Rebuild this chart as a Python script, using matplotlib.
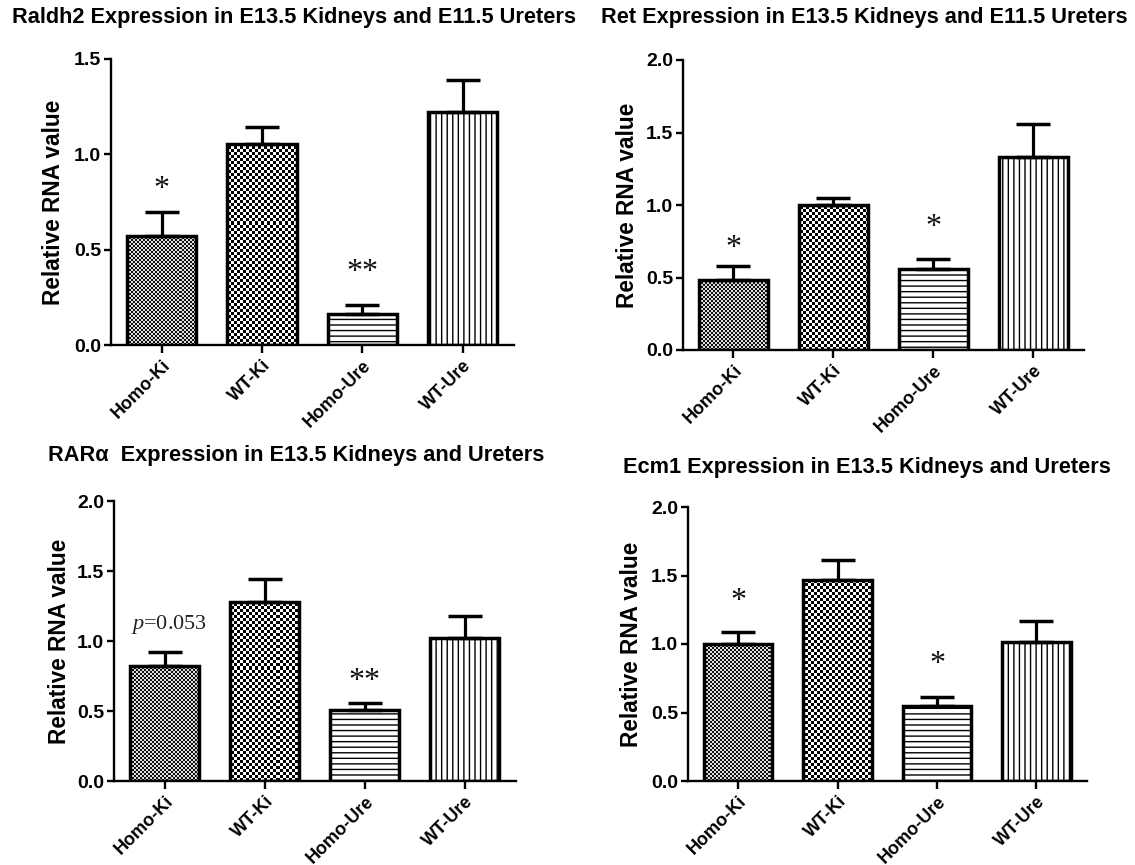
import matplotlib
matplotlib.use('Agg')
import matplotlib.pyplot as plt
import numpy as np
from matplotlib.colors import ListedColormap

plt.rcParams['font.family'] = ['Liberation Sans', 'DejaVu Sans']
plt.rcParams['mathtext.fontset'] = 'custom'
plt.rcParams['mathtext.rm'] = 'Liberation Serif'
plt.rcParams['mathtext.it'] = 'Liberation Serif:italic'
plt.rcParams['hatch.linewidth'] = 1.0

categories = ['Homo-Ki', 'WT-Ki', 'Homo-Ure', 'WT-Ure']

titles = ['Raldh2 Expression in E13.5 Kidneys and E11.5 Ureters',
          'Ret Expression in E13.5 Kidneys and E11.5 Ureters',
          'RAR\u03b1  Expression in E13.5 Kidneys and Ureters',
          'Ecm1 Expression in E13.5 Kidneys and Ureters']
ylabel = 'Relative RNA value'

raldh2_mean = [0.57, 1.055, 0.16, 1.22]
raldh2_err = [0.13, 0.09, 0.05, 0.17]
ret_mean = [0.48, 1.00, 0.56, 1.33]
ret_err = [0.10, 0.05, 0.07, 0.23]
rara_mean = [0.82, 1.28, 0.51, 1.02]
rara_err = [0.10, 0.16, 0.045, 0.16]
ecm1_mean = [1.00, 1.466, 0.55, 1.015]
ecm1_err = [0.09, 0.15, 0.06, 0.15]

raldh2_marks = ['*', '', '**', '']
raldh2_mark_y = [0.854, 0, 0.416, 0]
ret_marks = ['*', '', '*', '']
ret_mark_y = [0.75, 0, 0.89, 0]
rara_marks = ['$p$=0.053', '', '**', '']
rara_mark_y = [1.116, 0, 0.757, 0]
ecm1_marks = ['*', '', '*', '']
ecm1_mark_y = [1.36, 0, 0.90, 0]

ymax = [1.5, 2.0, 2.0, 2.0]
yticks = [[0.0, 0.5, 1.0, 1.5], [0.0, 0.5, 1.0, 1.5, 2.0],
          [0.0, 0.5, 1.0, 1.5, 2.0], [0.0, 0.5, 1.0, 1.5, 2.0]]

W, H = 1135, 865
fig = plt.figure(figsize=(W / 100, H / 100), dpi=100)
renderer = fig.canvas.get_renderer()

# axes rectangles in pixels: left, right, top, bottom
rects_px = [(111, 514, 59, 345), (683, 1084, 60, 350),
            (114, 516, 501, 781), (688, 1087, 507, 781)]
title_px = [(294, 18), (864, 18), (296, 456), (867, 468)]
ylab_x_px = [54, 628, 59, 631]
title_target_w = 566  # width of first title in pixels
ylab_target_h = 205

means = [raldh2_mean, ret_mean, rara_mean, ecm1_mean]
errs = [raldh2_err, ret_err, rara_err, ecm1_err]
marks = [raldh2_marks, ret_marks, rara_marks, ecm1_marks]
mark_ys = [raldh2_mark_y, ret_mark_y, rara_mark_y, ecm1_mark_y]

xlim = (-0.505, 3.51)
bar_w = 0.69

# fit font sizes to measured extents
probe = fig.text(0, 0, titles[0], fontsize=15, fontweight='bold')
title_fs = 15 * title_target_w / probe.get_window_extent(renderer).width
probe.remove()
probe = fig.text(0, 0, ylabel, fontsize=16, fontweight='bold')
ylab_fs = 16 * ylab_target_h / probe.get_window_extent(renderer).width
probe.remove()


def checker_fill(ax, patch, cell_px, w_px, h_px, colors, ylim):
    nx = int(np.ceil(w_px / cell_px))
    ny = int(np.ceil(h_px / cell_px))
    ii, jj = np.indices((ny, nx))
    arr = (ii + jj) % 2
    im = ax.imshow(arr, extent=(xlim[0], xlim[0] + nx * cell_px * (xlim[1] - xlim[0]) / w_px,
                                ylim[0], ylim[0] + ny * cell_px * (ylim[1] - ylim[0]) / h_px),
                   origin='lower', cmap=ListedColormap(colors), interpolation='nearest',
                   aspect='auto', zorder=2)
    im.set_clip_path(patch)


for k in range(4):
    l, r, t, b = rects_px[k]
    ax = fig.add_axes([l / W, (H - b) / H, (r - l) / W, (b - t) / H])
    x = np.arange(len(categories))
    ylim = (0, ymax[k])
    ax.set_xlim(*xlim)
    ax.set_ylim(*ylim)
    bars = ax.bar(x, means[k], width=bar_w, facecolor='none', edgecolor='black',
                  linewidth=2.5, zorder=3)
    bars[2].set_hatch('---')
    bars[3].set_hatch('|||')
    w_px, h_px = r - l, b - t
    checker_fill(ax, bars[0], 2, w_px, h_px, ['#111111', '#dddddd'], ylim)
    checker_fill(ax, bars[1], 3, w_px, h_px, ['#000000', '#ffffff'], ylim)
    ax.errorbar(x, means[k], yerr=[np.zeros(4), errs[k]], fmt='none', ecolor='black',
                elinewidth=2.3, capsize=12.5, capthick=2.5, zorder=2.8)
    for i in range(4):
        if marks[k][i]:
            if marks[k][i].startswith('$'):
                ax.text(x[i] + 0.04, mark_ys[k][i], marks[k][i], ha='center', va='center',
                        fontsize=16, color='#222222', family='Liberation Serif')
            else:
                ax.annotate(marks[k][i], (x[i], mark_ys[k][i]), xytext=(0, -5),
                            textcoords='offset points', ha='center', va='center',
                            fontsize=23, color='#111111', family='Liberation Serif')
    ax.set_xticks(x)
    ax.set_xticklabels(categories, rotation=45, ha='right', rotation_mode='anchor',
                       fontsize=13, fontweight='bold')
    ax.set_yticks(yticks[k])
    ax.set_yticklabels(['%.1f' % v for v in yticks[k]], fontsize=14, fontweight='bold')
    for s in ['top', 'right']:
        ax.spines[s].set_visible(False)
    for s in ['left', 'bottom']:
        ax.spines[s].set_linewidth(1.7)
    ax.tick_params(axis='y', direction='out', length=5, width=1.7, pad=2)
    ax.tick_params(axis='x', direction='out', length=6, width=1.7, pad=2.5)
    fig.text(ylab_x_px[k] / W, 1 - (t + b) / 2 / H, ylabel, rotation=90, ha='center',
             va='center', fontsize=ylab_fs, fontweight='bold')
    tx, ty = title_px[k]
    fig.text(tx / W, 1 - ty / H, titles[k], ha='center', va='center', fontsize=title_fs,
             fontweight='bold')

fig.savefig('out.png', dpi=100, facecolor='white')
